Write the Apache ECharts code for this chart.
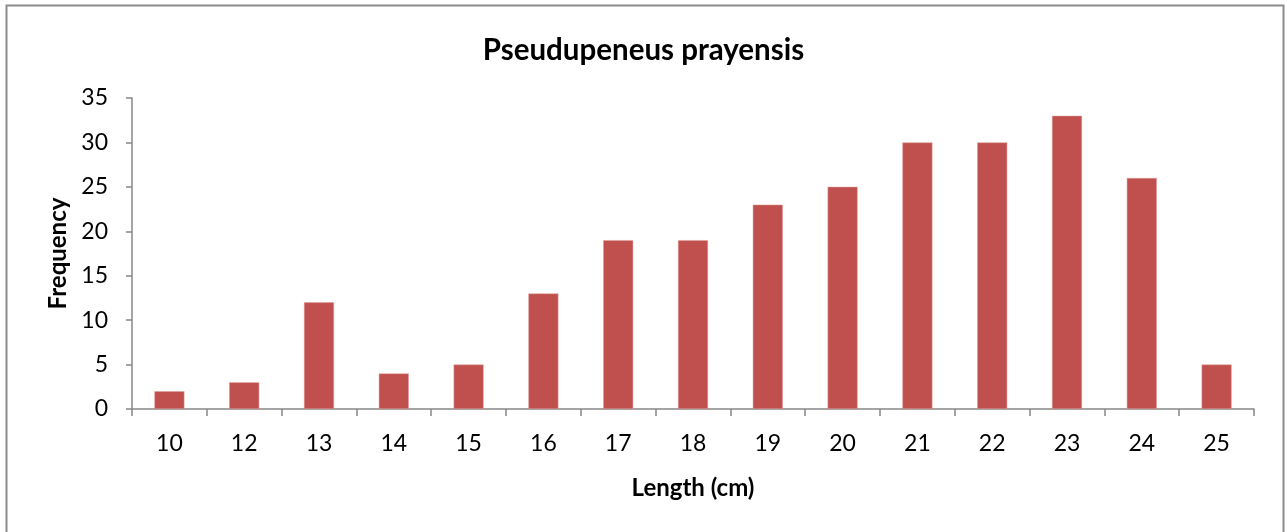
<!DOCTYPE html>
<html>
<head>
<meta charset="utf-8">
<script src="https://cdn.jsdelivr.net/npm/echarts@6/dist/echarts.min.js"></script>
<style>
  html, body { margin: 0; padding: 0; background: #fff; }
  #chart { width: 1287px; height: 532px; }
</style>
</head>
<body>
<div id="chart"></div>
<script>
// length classes and counts
let lengths = ['10', '12', '13', '14', '15', '16', '17', '18', '19', '20', '21', '22', '23', '24', '25'];
let frequency = [2, 3, 12, 4, 5, 13, 19, 19, 23, 25, 30, 30, 33, 26, 5];
let yTicks = [0, 5, 10, 15, 20, 25, 30, 35];

let chartDom = document.getElementById('chart');
let myChart = echarts.init(chartDom);
let font = 'Lato, "Open Sans", sans-serif';

let option = {
  animation: false,
  backgroundColor: '#fff',
  graphic: [{
    type: 'rect',
    shape: { x: 6.5, y: 5.5, width: 1277, height: 540 },
    style: { fill: 'none', stroke: '#8c8c8c', lineWidth: 2 },
    silent: true
  }],
  title: {
    text: 'Pseudupeneus prayensis',
    left: 'center',
    top: 30,
    textStyle: { fontFamily: font, fontSize: 29.5, fontWeight: 'bold', color: '#000' }
  },
  grid: { left: 132, right: 33, top: 98, bottom: 123 },
  xAxis: {
    type: 'category',
    data: lengths,
    name: 'Length (cm)',
    nameLocation: 'middle',
    nameGap: 67,
    nameTextStyle: { fontFamily: font, fontSize: 24, fontWeight: 'bold', color: '#000' },
    axisLine: { lineStyle: { color: '#868686', width: 1.5 } },
    axisTick: { show: true, length: 7, lineStyle: { color: '#868686', width: 1.5 } },
    axisLabel: { fontFamily: font, fontSize: 23, color: '#000', margin: 23 }
  },
  yAxis: {
    type: 'value',
    min: 0,
    max: 35,
    interval: 5,
    name: 'Frequency',
    nameLocation: 'middle',
    nameGap: 62,
    nameTextStyle: { fontFamily: font, fontSize: 24, fontWeight: 'bold', color: '#000' },
    splitLine: { show: false },
    axisLine: { show: true, lineStyle: { color: '#868686', width: 1.5 } },
    axisTick: { show: true, length: 6, lineStyle: { color: '#868686', width: 1.5 } },
    axisLabel: {
      fontFamily: font, fontSize: 23, color: '#000', margin: 24,
      formatter: function (v) { return yTicks.indexOf(v) >= 0 ? String(v) : ''; }
    }
  },
  series: [{
    type: 'bar',
    data: frequency,
    barWidth: 30,
    itemStyle: { color: '#C0504D', borderColor: '#e0a09e', borderWidth: 0.5 }
  }]
};

myChart.setOption(option);
window.addEventListener('resize', () => {
  myChart.resize();
});
</script>
</body>
</html>
